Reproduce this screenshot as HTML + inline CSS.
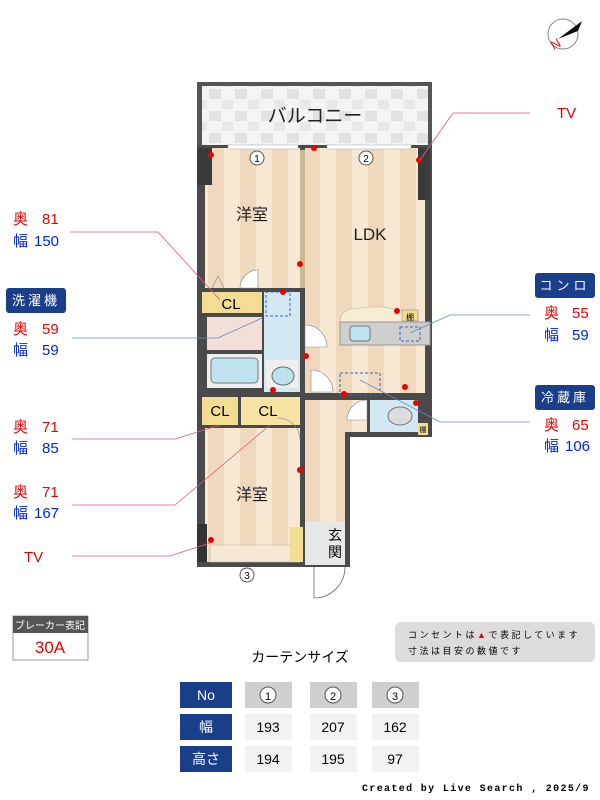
<!DOCTYPE html>
<html><head><meta charset="utf-8"><style>
body{margin:0;background:#fff;}
svg{display:block;font-family:"Liberation Sans","Noto Sans CJK JP",sans-serif;}
</style></head><body>
<svg width="600" height="800" viewBox="0 0 600 800" xmlns="http://www.w3.org/2000/svg">
<defs>
<pattern id="st" width="32" height="10" patternUnits="userSpaceOnUse"><rect width="16" height="10" fill="#f6e8d2"/><rect x="16" width="16" height="10" fill="#efd8bc"/></pattern>
<pattern id="tile" width="26" height="22" patternUnits="userSpaceOnUse"><rect width="26" height="22" fill="#f4f4f4"/><rect x="1" y="1" width="12" height="10" fill="#e2e2e2"/><rect x="14" y="12" width="11" height="9" fill="#e8e8e8"/></pattern>
</defs>
<!-- compass -->
<circle cx="563" cy="34" r="15" fill="#fff" stroke="#888" stroke-width="1"/>
<polygon points="558,39 582,21 578,31" fill="#111"/>
<text x="550" y="48" font-size="13" fill="#d22" transform="rotate(-30 556 42)">N</text>
<!-- building -->
<rect x="197" y="82" width="235" height="66" fill="#555"/>
<rect x="202" y="86" width="226" height="59" fill="url(#tile)"/>
<text x="315" y="122" font-size="19" text-anchor="middle" fill="#222">バルコニー</text>
<rect x="197" y="145" width="235" height="255" fill="#4a4a4a"/>
<rect x="197" y="395" width="153" height="172" fill="#4a4a4a"/>
<rect x="345" y="395" width="87" height="42" fill="#4a4a4a"/>
<rect x="205" y="148" width="95" height="140" fill="url(#st)"/>
<rect x="305" y="148" width="120" height="245" fill="url(#st)"/>
<rect x="197" y="148" width="15" height="37" fill="#3a3a3a"/>
<rect x="418" y="148" width="12" height="52" fill="#3a3a3a"/>
<rect x="300" y="150" width="5" height="138" fill="#c9b995"/>
<rect x="228" y="145" width="70" height="4" fill="#fff" stroke="#aaa" stroke-width=".5"/>
<rect x="327" y="145" width="84" height="4" fill="#fff" stroke="#aaa" stroke-width=".5"/>
<circle cx="257" cy="158" r="7" fill="#fff" stroke="#555"/><text x="257" y="162" font-size="10" text-anchor="middle">1</text>
<circle cx="366" cy="158" r="7" fill="#fff" stroke="#555"/><text x="366" y="162" font-size="10" text-anchor="middle">2</text>
<text x="252" y="220" font-size="16" text-anchor="middle" fill="#222">洋室</text>
<text x="370" y="240" font-size="17" text-anchor="middle" fill="#222">LDK</text>
<path d="M212 288 L218 276 L224 288" fill="none" stroke="#888" stroke-width=".6"/>
<path d="M258 288 L240 288 A18 18 0 0 1 258 270 Z" fill="#fff" stroke="#888" stroke-width=".6"/>
<!-- CL upper -->
<rect x="202" y="292" width="60" height="21" fill="#f3dd93"/>
<text x="231" y="309" font-size="15" text-anchor="middle">CL</text>
<rect x="207" y="317" width="55" height="33" fill="#f4dfd8"/>
<rect x="207" y="354" width="55" height="34" fill="#eeeeee"/>
<rect x="211" y="358" width="47" height="25" rx="4" fill="#bfe3ee" stroke="#777"/>
<rect x="264" y="292" width="36" height="100" fill="#d2e8f4"/>
<rect x="266" y="292" width="24" height="24" fill="none" stroke="#3366bb" stroke-dasharray="3,2"/>
<rect x="266" y="360" width="32" height="28" fill="#eee"/>
<ellipse cx="283" cy="376" rx="11" ry="9" fill="#bfe3ee" stroke="#666"/>
<!-- LDK kitchen -->
<path d="M340 322 Q340 308 360 308 Q385 305 395 310 L418 313 L418 322 Z" fill="#f8ecd2" stroke="#bba" stroke-width=".6"/>
<rect x="340" y="322" width="90" height="23" fill="#cfcfcf" stroke="#999"/>
<rect x="350" y="326" width="20" height="15" rx="3" fill="#bfe3ee" stroke="#777"/>
<rect x="400" y="327" width="20" height="14" fill="none" stroke="#3366bb" stroke-dasharray="3,2"/>
<rect x="402" y="310" width="16" height="11" fill="#f3dd93" stroke="#777" stroke-width=".5"/><text x="410" y="320" font-size="8" text-anchor="middle">棚</text>
<rect x="340" y="373" width="40" height="22" fill="none" stroke="#3366bb" stroke-dasharray="3,2"/>
<path d="M305 325 A22 22 0 0 1 327 347 L305 347 Z" fill="#fff" stroke="#888" stroke-width=".6"/>
<path d="M311 370 A22 22 0 0 1 333 392 L311 392 Z" fill="#fff" stroke="#888" stroke-width=".6"/>
<!-- lower -->
<rect x="202" y="397" width="36" height="28" fill="#f3dd93"/>
<text x="220" y="416" font-size="15" text-anchor="middle">CL</text>
<rect x="241" y="397" width="59" height="28" fill="#f6e3a3"/>
<text x="268" y="416" font-size="15" text-anchor="middle">CL</text>
<rect x="205" y="428" width="95" height="134" fill="url(#st)"/>
<rect x="197" y="524" width="10" height="38" fill="#333"/>
<rect x="210" y="545" width="90" height="17" fill="#f6e8d2" stroke="#cba" stroke-width=".6"/>
<path d="M300 440 A22 22 0 0 0 278 418" fill="none" stroke="#888" stroke-width=".6"/>
<text x="252" y="500" font-size="16" text-anchor="middle" fill="#222">洋室</text>
<rect x="305" y="400" width="40" height="122" fill="url(#st)"/>
<rect x="345" y="400" width="22" height="32" fill="url(#st)"/>
<path d="M367 400 A20 20 0 0 0 347 420 L367 420 Z" fill="#fff" stroke="#888" stroke-width=".6"/>
<rect x="370" y="400" width="48" height="32" fill="#d2e8f4"/>
<ellipse cx="400" cy="416" rx="12" ry="9" fill="#ddd" stroke="#777"/>
<rect x="418" y="423" width="10" height="12" fill="#f3dd93"/><text x="423" y="432" font-size="7" text-anchor="middle">棚</text>
<rect x="305" y="522" width="40" height="43" fill="#e8e8e8"/>
<rect x="290" y="527" width="13" height="35" fill="#f3dd93"/>
<text x="335" y="540" font-size="14" text-anchor="middle">玄</text>
<text x="335" y="557" font-size="14" text-anchor="middle">関</text>
<path d="M314 567 L314 598 A31 31 0 0 0 345 567" fill="#fff" stroke="#666" stroke-width=".8"/>
<circle cx="247" cy="575" r="7" fill="#fff" stroke="#555"/><text x="247" y="579" font-size="10" text-anchor="middle">3</text>
<!-- red dots -->
<g fill="#e00">
<circle cx="211" cy="155" r="3"/><circle cx="314" cy="148" r="3"/><circle cx="419" cy="160" r="3"/>
<circle cx="300" cy="264" r="3"/><circle cx="283" cy="292" r="3"/><circle cx="397" cy="311" r="3"/>
<circle cx="306" cy="356" r="3"/><circle cx="273" cy="390" r="3"/><circle cx="344" cy="394" r="3"/>
<circle cx="405" cy="387" r="3"/><circle cx="416" cy="403" r="3"/><circle cx="300" cy="470" r="3"/><circle cx="211" cy="540" r="3"/>
</g>
<!-- leader lines -->
<g fill="none" stroke-width="0.8">
<polyline points="70,232 158,232 220,300" stroke="#e05a78"/>
<polyline points="72,338 218,338 262,318" stroke="#6688cc"/>
<polyline points="72,439 175,439 220,425" stroke="#e05a78"/>
<polyline points="72,505 175,505 270,425" stroke="#e05a78"/>
<polyline points="72,556 170,556 210,543" stroke="#e05a78"/>
<polyline points="530,113 453,113 420,160" stroke="#e05a78"/>
<polyline points="530,315 450,315 410,333" stroke="#6688cc"/>
<polyline points="530,422 440,422 360,380" stroke="#6688cc"/>
</g>
<!-- labels -->
<g font-size="15">
<text x="13" y="224" fill="#e00">奥</text><text x="42" y="224" fill="#e00">81</text>
<text x="13" y="246" fill="#0022ee">幅</text><text x="34" y="246" fill="#0022ee">150</text>
<rect x="6" y="288" width="60" height="25" rx="3" fill="#1a3f8a"/><text x="36" y="305" font-size="13" fill="#fff" text-anchor="middle" letter-spacing="3">洗濯機</text>
<text x="13" y="334" fill="#e00">奥</text><text x="42" y="334" fill="#e00">59</text>
<text x="13" y="355" fill="#0022ee">幅</text><text x="42" y="355" fill="#0022ee">59</text>
<text x="13" y="432" fill="#e00">奥</text><text x="42" y="432" fill="#e00">71</text>
<text x="13" y="453" fill="#0022ee">幅</text><text x="42" y="453" fill="#0022ee">85</text>
<text x="13" y="497" fill="#e00">奥</text><text x="42" y="497" fill="#e00">71</text>
<text x="13" y="518" fill="#0022ee">幅</text><text x="34" y="518" fill="#0022ee">167</text>
<text x="24" y="562" fill="#e00">TV</text>
<text x="557" y="118" fill="#e00">TV</text>
<rect x="535" y="273" width="60" height="25" rx="3" fill="#1a3f8a"/><text x="565" y="290" font-size="13" fill="#fff" text-anchor="middle" letter-spacing="4">コンロ</text>
<text x="544" y="318" fill="#e00">奥</text><text x="572" y="318" fill="#e00">55</text>
<text x="544" y="340" fill="#0022ee">幅</text><text x="572" y="340" fill="#0022ee">59</text>
<rect x="535" y="385" width="60" height="25" rx="3" fill="#1a3f8a"/><text x="565" y="402" font-size="13" fill="#fff" text-anchor="middle" letter-spacing="3">冷蔵庫</text>
<text x="544" y="430" fill="#e00">奥</text><text x="572" y="430" fill="#e00">65</text>
<text x="544" y="451" fill="#0022ee">幅</text><text x="565" y="451" fill="#0022ee">106</text>
</g>
<!-- bottom -->
<rect x="13" y="616" width="75" height="44" fill="#fff" stroke="#999"/>
<rect x="13" y="616" width="75" height="17" fill="#555"/>
<text x="50" y="629" font-size="10" fill="#fff" text-anchor="middle">ブレーカー表記</text>
<text x="50" y="653" font-size="17" fill="#e00" text-anchor="middle">30A</text>
<rect x="395" y="622" width="200" height="40" rx="6" fill="#dcdcdc"/>
<text x="408" y="638" font-size="9" letter-spacing="2.5">コンセントは<tspan fill="#e00">▲</tspan>で表記しています</text>
<text x="408" y="654" font-size="9" letter-spacing="2.5">寸法は目安の数値です</text>
<text x="300" y="662" font-size="14" text-anchor="middle">カーテンサイズ</text>
<g font-size="14" text-anchor="middle">
<rect x="180" y="682" width="52" height="26" fill="#1a3f8a"/><text x="206" y="700" fill="#fff">No</text>
<rect x="180" y="714" width="52" height="26" fill="#1a3f8a"/><text x="206" y="732" fill="#fff">幅</text>
<rect x="180" y="746" width="52" height="26" fill="#1a3f8a"/><text x="206" y="764" fill="#fff">高さ</text>
<rect x="245" y="682" width="47" height="26" fill="#cfcfcf"/><circle cx="268" cy="695" r="8" fill="#fff" stroke="#555"/><text x="268" y="700" font-size="11">1</text>
<rect x="310" y="682" width="47" height="26" fill="#cfcfcf"/><circle cx="333" cy="695" r="8" fill="#fff" stroke="#555"/><text x="333" y="700" font-size="11">2</text>
<rect x="372" y="682" width="47" height="26" fill="#cfcfcf"/><circle cx="395" cy="695" r="8" fill="#fff" stroke="#555"/><text x="395" y="700" font-size="11">3</text>
<rect x="245" y="714" width="47" height="26" fill="#f2f2f2"/><text x="268" y="732">193</text>
<rect x="310" y="714" width="47" height="26" fill="#f2f2f2"/><text x="333" y="732">207</text>
<rect x="372" y="714" width="47" height="26" fill="#f2f2f2"/><text x="395" y="732">162</text>
<rect x="245" y="746" width="47" height="26" fill="#f2f2f2"/><text x="268" y="764">194</text>
<rect x="310" y="746" width="47" height="26" fill="#f2f2f2"/><text x="333" y="764">195</text>
<rect x="372" y="746" width="47" height="26" fill="#f2f2f2"/><text x="395" y="764">97</text>
</g>
<text x="362" y="791" font-size="10" font-weight="bold" font-family="Liberation Mono, monospace" letter-spacing="1.35">Created by Live Search , 2025/9</text>
</svg>
</body></html>
